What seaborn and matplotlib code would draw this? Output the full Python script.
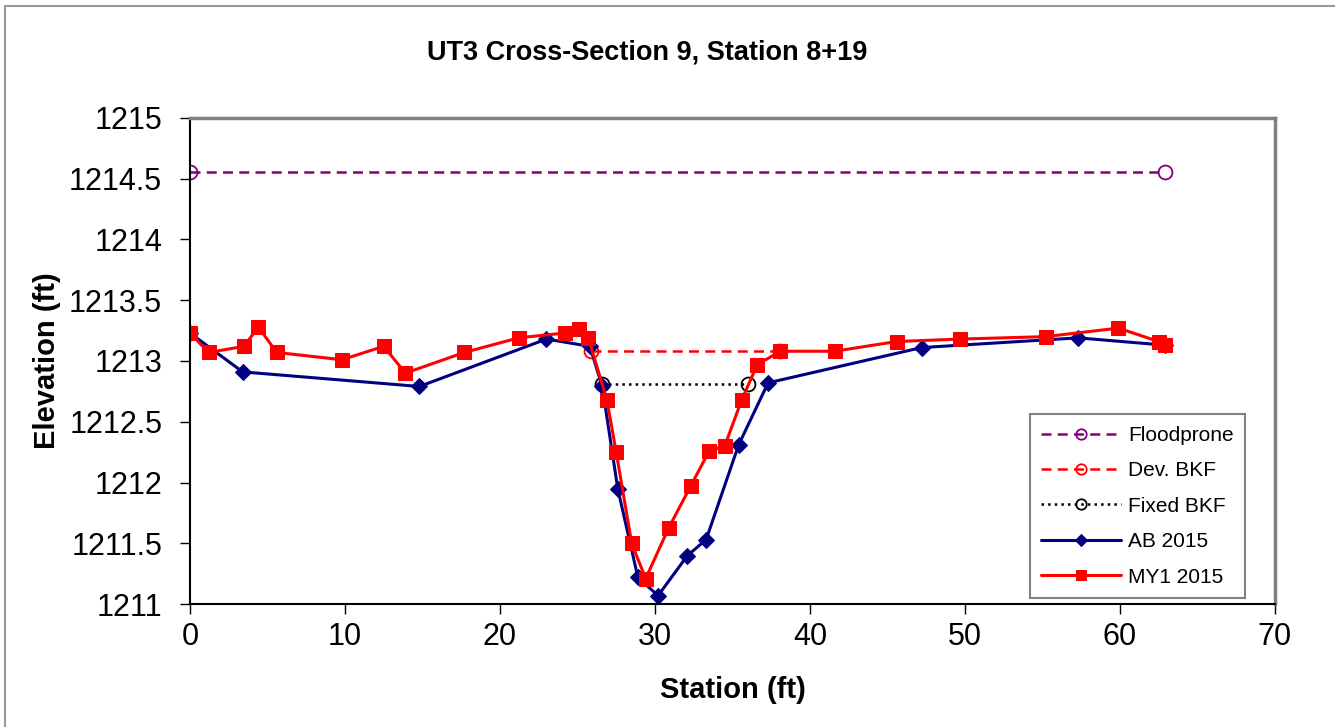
import matplotlib
matplotlib.use("Agg")
import matplotlib.pyplot as plt
import seaborn as sns
from matplotlib.patches import Rectangle

# === Data ===
flood_x = [0, 62.9]
flood_y = [1214.55, 1214.55]

dev_bkf_x = [25.9, 38.1]
dev_bkf_y = [1213.08, 1213.08]

fixed_bkf_x = [26.6, 36.0]
fixed_bkf_y = [1212.81, 1212.81]

ab_x = [0, 3.4, 14.8, 23.0, 25.8, 26.6, 27.6, 28.9, 30.2, 32.1, 33.3, 35.4, 37.3, 47.2, 57.3, 62.9]
ab_y = [1213.23, 1212.91, 1212.79, 1213.18, 1213.12, 1212.79, 1211.95, 1211.22, 1211.07,
        1211.40, 1211.53, 1212.31, 1212.82, 1213.11, 1213.19, 1213.13]

my1_x = [0, 1.2, 3.5, 4.4, 5.6, 9.8, 12.5, 13.9, 17.7, 21.2, 24.2, 25.1, 25.7, 26.9, 27.5,
         28.5, 29.4, 30.9, 32.3, 33.5, 34.5, 35.6, 36.6, 38.1, 41.6, 45.6, 49.7, 55.2, 59.9,
         62.5, 62.9]
my1_y = [1213.23, 1213.07, 1213.12, 1213.28, 1213.07, 1213.01, 1213.12, 1212.90, 1213.07,
         1213.19, 1213.23, 1213.26, 1213.19, 1212.68, 1212.25, 1211.50, 1211.21, 1211.63,
         1211.97, 1212.26, 1212.30, 1212.68, 1212.97, 1213.08, 1213.08, 1213.16, 1213.18,
         1213.20, 1213.27, 1213.16, 1213.13]

x_ticks = [0, 10, 20, 30, 40, 50, 60, 70]
y_ticks = [1211, 1211.5, 1212, 1212.5, 1213, 1213.5, 1214, 1214.5, 1215]
y_tick_labels = ["1211", "1211.5", "1212", "1212.5", "1213", "1213.5", "1214", "1214.5", "1215"]

# === Style ===
sns.set_style("white")
plt.rcParams['font.family'] = ['Liberation Sans', 'DejaVu Sans']
plt.rcParams['text.color'] = 'black'
plt.rcParams['axes.labelcolor'] = 'black'
plt.rcParams['xtick.color'] = 'black'
plt.rcParams['ytick.color'] = 'black'

fig = plt.figure(figsize=(13.35, 7.27), dpi=100)
ax = fig.add_axes([0.1423, 0.169, 0.8127, 0.669])

sns.lineplot(x=flood_x, y=flood_y, sort=False, ax=ax, color="#800080", linestyle=(0, (4, 2.5)),
             linewidth=1.8, marker="o", markersize=10, markerfacecolor="none",
             markeredgecolor="#800080", markeredgewidth=1.3, label="Floodprone")
sns.lineplot(x=dev_bkf_x, y=dev_bkf_y, sort=False, ax=ax, color="#ff0000", linestyle=(0, (4, 2.5)),
             linewidth=1.8, marker="o", markersize=10, markerfacecolor="none",
             markeredgecolor="#ff0000", markeredgewidth=1.3, label="Dev. BKF")
sns.lineplot(x=fixed_bkf_x, y=fixed_bkf_y, sort=False, ax=ax, color="black", linestyle=":",
             linewidth=1.8, marker="o", markersize=10, markerfacecolor="none",
             markeredgecolor="black", markeredgewidth=1.3, label="Fixed BKF")
sns.lineplot(x=ab_x, y=ab_y, sort=False, ax=ax, color="#000080", linewidth=2.2,
             marker="D", markersize=8, markeredgecolor="#000080", label="AB 2015")
sns.lineplot(x=my1_x, y=my1_y, sort=False, ax=ax, color="#ff0000", linewidth=2.2,
             marker="s", markersize=10, markeredgecolor="#ff0000", label="MY1 2015")

ax.set_xlim(0, 70)
ax.set_ylim(1211, 1215)
ax.set_xticks(x_ticks)
ax.set_yticks(y_ticks)
ax.set_yticklabels(y_tick_labels)
ax.tick_params(axis="both", direction="out", length=7, width=1, color="black",
               labelsize=22, bottom=True, left=True)
ax.tick_params(axis="y", pad=13)
ax.tick_params(axis="x", pad=6)

for side in ["left", "bottom"]:
    ax.spines[side].set_color("black")
    ax.spines[side].set_linewidth(1.5)
for side in ["top", "right"]:
    ax.spines[side].set_color("#808080")
    ax.spines[side].set_linewidth(2.5)

fig.text(0.485, 0.928, "UT3 Cross-Section 9, Station 8+19", fontsize=19.5,
         fontweight="bold", ha="center", va="center")
ax.set_xlabel("Station (ft)", fontsize=21, fontweight="bold", labelpad=17)
ax.set_ylabel("Elevation (ft)", fontsize=21, fontweight="bold", labelpad=6)

leg = ax.legend(loc="lower right", bbox_to_anchor=(0.9724, 0.0123), borderaxespad=0,
                fontsize=15, frameon=True, fancybox=False, edgecolor="#808080", framealpha=1,
                handlelength=3.8, labelspacing=0.79, borderpad=0.55, handletextpad=0.35,
                markerscale=0.75)
leg.get_frame().set_linewidth(1.5)

# outer chart border
fig.patches.append(Rectangle((0.004, -0.01), 1.0, 1.002, transform=fig.transFigure,
                             fill=False, edgecolor="#999999", linewidth=1.5))

fig.savefig("out.png", dpi=100)
